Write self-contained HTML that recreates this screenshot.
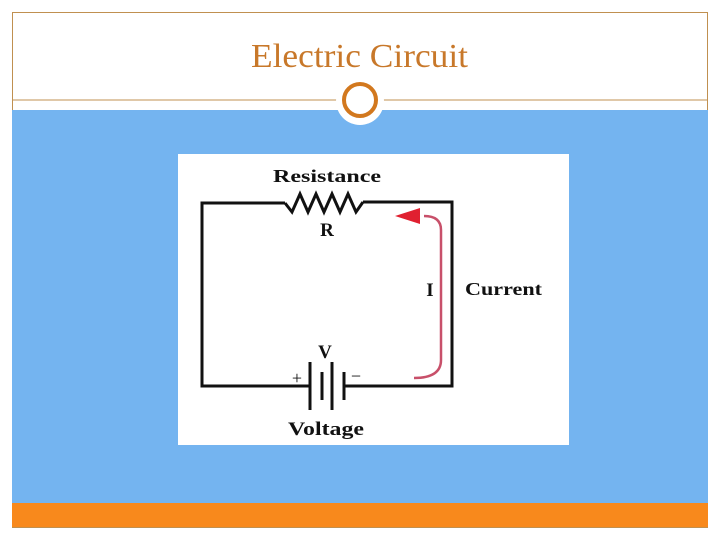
<!DOCTYPE html>
<html><head><style>
body{margin:0;width:720px;height:540px;background:#fff;position:relative;overflow:hidden}
</style></head><body>
<svg width="720" height="540" style="position:absolute;left:0;top:0">
<rect x="12.5" y="12.5" width="695" height="515" fill="none" stroke="#c09050" stroke-width="1"/>
<rect x="12" y="110" width="696" height="393" fill="#74b4f0"/>
<rect x="12" y="503" width="696" height="24" fill="#f8891c"/>
<line x1="12" y1="100" x2="708" y2="100" stroke="#c09050" stroke-width="1"/>
<circle cx="360" cy="101" r="24" fill="#fff"/>
<circle cx="360" cy="100" r="16" fill="#fff" stroke="#d2781e" stroke-width="4"/>
<text x="251" y="67" textLength="217" lengthAdjust="spacingAndGlyphs" font-family="Liberation Serif, serif" font-size="34" fill="#c8782a">Electric Circuit</text>
<rect x="178" y="154" width="391" height="291" fill="#fff"/>
<g fill="none" stroke="#111" stroke-width="3">
<polyline points="285,203 202,203 202,386 310,386"/>
<polyline points="344,386 452,386 452,202 363,202"/>
<polyline points="285,203 292,212 300,194 308,212 316,194 324,212 332,194 340,212 348,194 356,212 363,202"/>
<line x1="310" y1="362" x2="310" y2="410"/>
<line x1="332" y1="362" x2="332" y2="410"/>
<line x1="322" y1="372" x2="322" y2="400"/>
<line x1="344" y1="372" x2="344" y2="400"/>
</g>
<path d="M414,378 Q441,378 441,360 L441,230 Q441,216 424,216" fill="none" stroke="#c8506a" stroke-width="2.5"/>
<polygon points="395,216 420,208 420,224" fill="#e02030"/>
<g font-family="Liberation Serif, serif" font-weight="bold" fill="#111">
<text x="273" y="182" font-size="18" textLength="108" lengthAdjust="spacingAndGlyphs">Resistance</text>
<text x="327" y="236" font-size="19" text-anchor="middle">R</text>
<text x="430" y="296" font-size="19" text-anchor="middle">I</text>
<text x="465" y="295" font-size="18" textLength="77" lengthAdjust="spacingAndGlyphs">Current</text>
<text x="325" y="358" font-size="19" text-anchor="middle">V</text>
<text x="297" y="384" font-size="18" font-weight="normal" text-anchor="middle">+</text>
<text x="356" y="382" font-size="18" font-weight="normal" text-anchor="middle">−</text>
<text x="288" y="435" font-size="19" textLength="76" lengthAdjust="spacingAndGlyphs">Voltage</text>
</g>
</svg>
</body></html>
